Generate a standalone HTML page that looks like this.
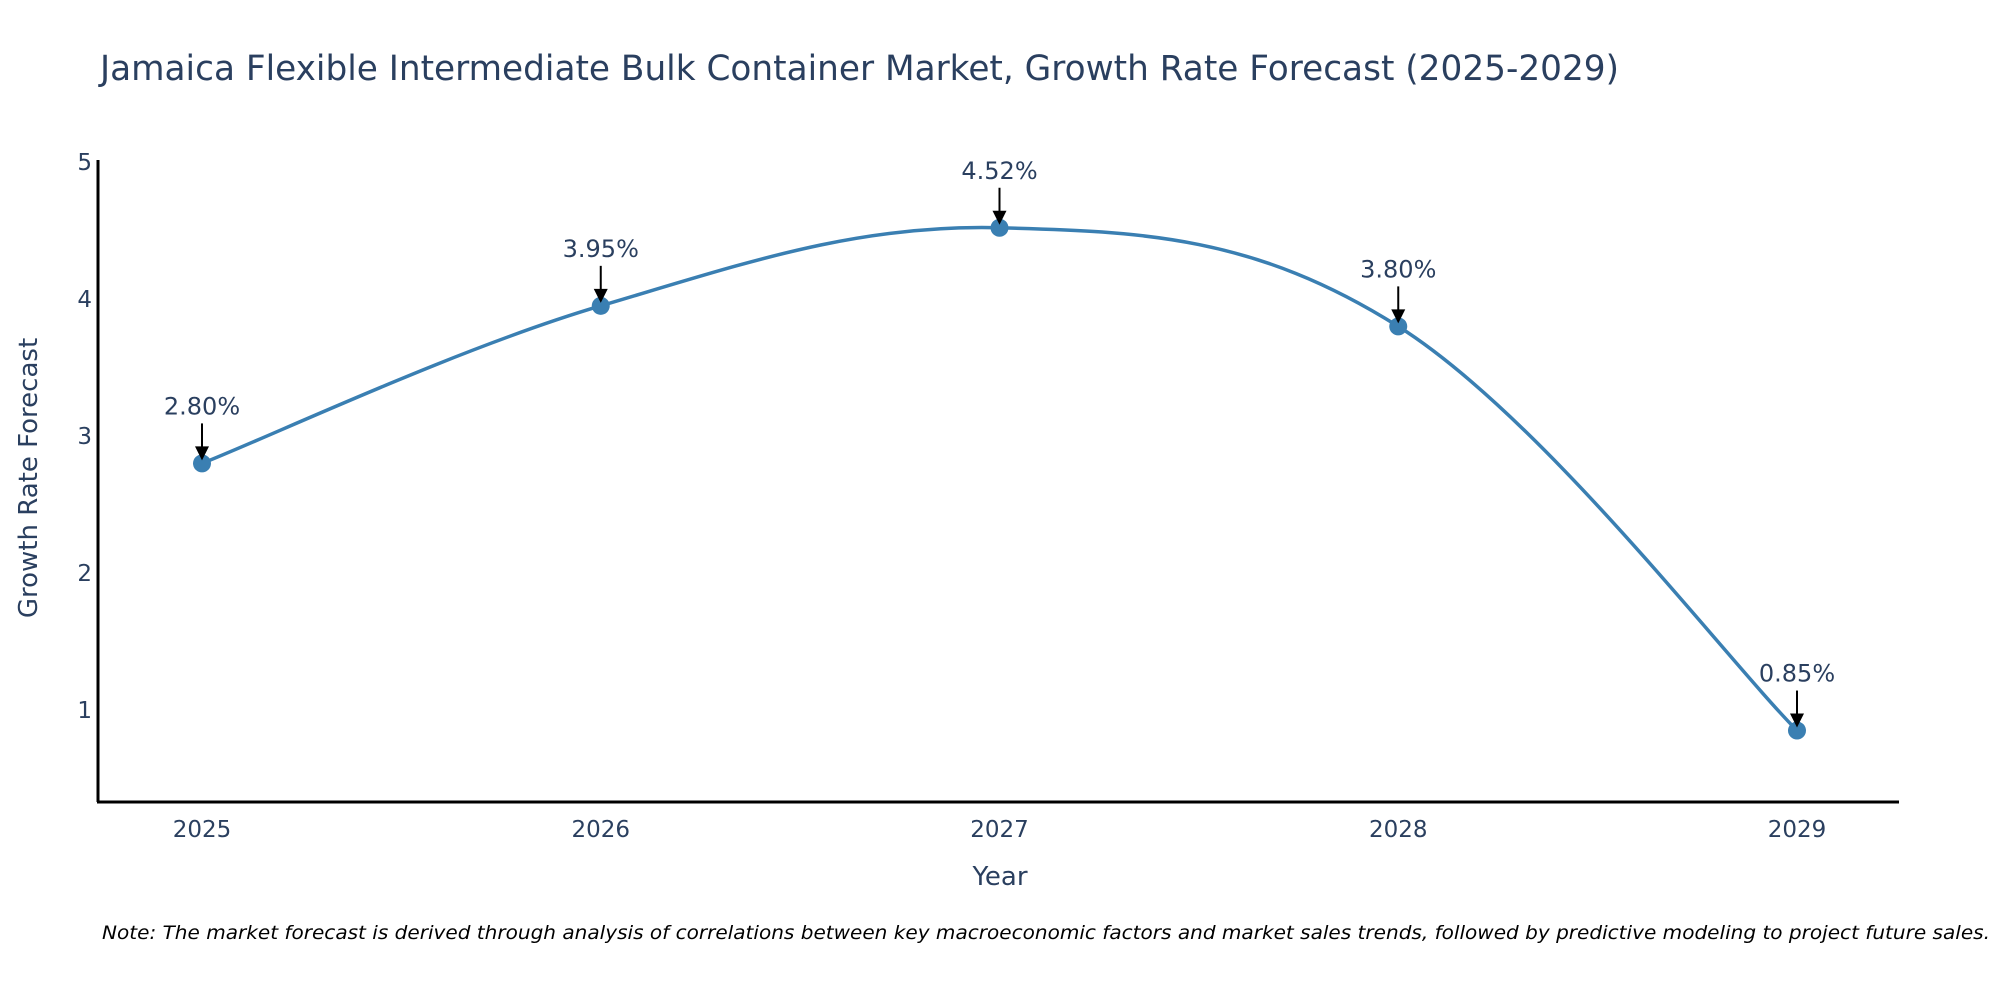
<!DOCTYPE html>
<html><head><meta charset="utf-8"><style>
body{margin:0;background:#fff;}
svg{display:block;font-family:"DejaVu Sans","Liberation Sans",sans-serif;}
</style></head><body>
<svg id="chart" width="2000" height="1000">
<text x="100" y="80" font-size="34.3" fill="#2a3f5f">Jamaica Flexible Intermediate Bulk Container Market, Growth Rate Forecast (2025-2029)</text>
<g id="yticks"></g><g id="xticks"></g>
<line x1="98" y1="160" x2="98" y2="802" stroke="#000" stroke-width="3"/>
<line x1="97" y1="802" x2="1899" y2="802" stroke="#000" stroke-width="3"/>
<text x="1000" y="885" font-size="26" fill="#2a3f5f" text-anchor="middle">Year</text>
<text transform="translate(37,478) rotate(-90)" font-size="26" fill="#2a3f5f" text-anchor="middle">Growth Rate Forecast</text>
<g id="series"></g>
<text x="1990" y="939" font-size="19" font-style="italic" fill="#000" text-anchor="end" textLength="1888" lengthAdjust="spacingAndGlyphs">Note: The market forecast is derived through analysis of correlations between key macroeconomic factors and market sales trends, followed by predictive modeling to project future sales.</text>
</svg>
<script>
const years=["2025","2026","2027","2028","2029"];
const values=[2.80,3.95,4.52,3.80,0.85];
const labels=["2.80%","3.95%","4.52%","3.80%","0.85%"];
const yTicks=[1,2,3,4,5];
const NS="http://www.w3.org/2000/svg";
function xs(i){return 202+i*(1797-202)/(years.length-1);}
function ys(v){return 162+(5-v)*137;}
function mk(tag,attrs,parent){const e=document.createElementNS(NS,tag);for(const k in attrs)e.setAttribute(k,attrs[k]);parent.appendChild(e);return e;}
const yt=document.getElementById('yticks'),xt=document.getElementById('xticks'),se=document.getElementById('series');
yTicks.forEach(t=>{const e=mk('text',{x:92,y:ys(t)+8,'font-size':23,fill:'#2a3f5f','text-anchor':'end'},yt);e.textContent=t;

});
years.forEach((y,i)=>{const e=mk('text',{x:xs(i),y:837,'font-size':23,fill:'#2a3f5f','text-anchor':'middle'},xt);e.textContent=y;

});
const P=values.map((v,i)=>[xs(i),ys(v)]);
let d=`M${P[0][0]},${P[0][1]}`;const s=0.18;
for(let i=0;i<P.length-1;i++){const p0=P[Math.max(i-1,0)],p1=P[i],p2=P[i+1],p3=P[Math.min(i+2,P.length-1)];
d+=` C${p1[0]+(p2[0]-p0[0])*s},${p1[1]+(p2[1]-p0[1])*s} ${p2[0]-(p3[0]-p1[0])*s},${p2[1]-(p3[1]-p1[1])*s} ${p2[0]},${p2[1]}`;}
const line=mk('path',{d:d,fill:'none',stroke:'#3a7fb2','stroke-width':3.5},se);


P.forEach((p,i)=>{
const c=mk('circle',{cx:p[0],cy:p[1],r:9,fill:'#3a7fb2'},se);


const a=mk('line',{x1:p[0],y1:p[1]-40,x2:p[0],y2:p[1]-14,stroke:'#000','stroke-width':2},se);


const h=mk('polygon',{points:`${p[0]-7},${p[1]-17} ${p[0]+7},${p[1]-17} ${p[0]},${p[1]-3}`,fill:'#000'},se);


const t=mk('text',{x:p[0],y:p[1]-49,'font-size':24,fill:'#2a3f5f','text-anchor':'middle'},se);t.textContent=labels[i];


});
</script>
</body></html>
